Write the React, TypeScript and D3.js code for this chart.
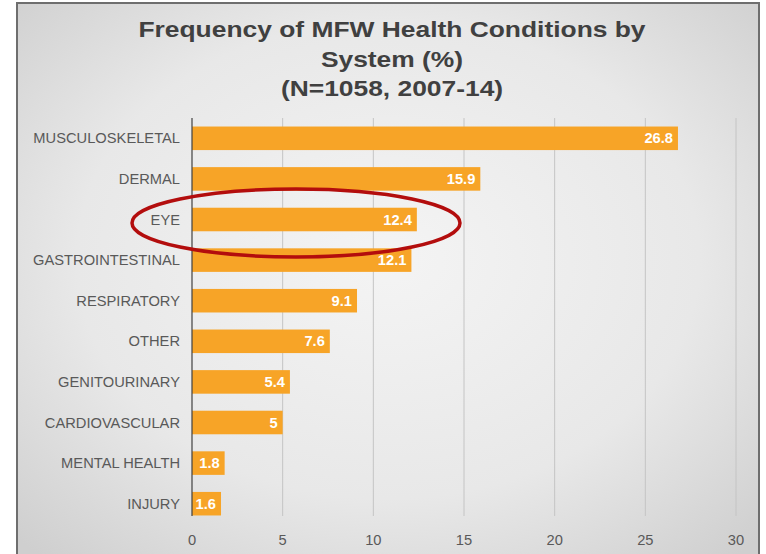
import React, { useEffect, useRef } from "react";
import * as d3 from "d3";

const categories = [
  "MUSCULOSKELETAL",
  "DERMAL",
  "EYE",
  "GASTROINTESTINAL",
  "RESPIRATORY",
  "OTHER",
  "GENITOURINARY",
  "CARDIOVASCULAR",
  "MENTAL HEALTH",
  "INJURY",
];
const values = [26.8, 15.9, 12.4, 12.1, 9.1, 7.6, 5.4, 5, 1.8, 1.6];
const xTicks = [0, 5, 10, 15, 20, 25, 30];
const titleLines = [
  "Frequency of MFW Health Conditions by",
  "System (%)",
  "(N=1058, 2007-14)",
];
const highlighted = "EYE";

export default function App() {
  const ref = useRef<SVGSVGElement>(null);

  useEffect(() => {
    const svg = d3.select(ref.current);
    svg.selectAll("*").remove();

    const W = 766, H = 554;
    const font = "'Liberation Sans', Arial, sans-serif";

    // background gradient + frame
    const defs = svg.append("defs");
    const grad = defs.append("radialGradient").attr("id", "bg")
      .attr("cx", "50%").attr("cy", "45%").attr("r", "70%");
    grad.append("stop").attr("offset", "0%").attr("stop-color", "#f4f4f4");
    grad.append("stop").attr("offset", "60%").attr("stop-color", "#e8e8e8");
    grad.append("stop").attr("offset", "100%").attr("stop-color", "#cfcfcf");

    svg.append("rect").attr("width", W).attr("height", H).attr("fill", "#fff");
    svg.append("rect")
      .attr("x", 17).attr("y", 3).attr("width", 742).attr("height", 570)
      .attr("fill", "url(#bg)").attr("stroke", "#6e6e6e").attr("stroke-width", 2);

    // title (the picture is a bit stretched horizontally)
    const titleBase = [37, 67, 96];
    svg.append("g").selectAll("text").data(titleLines).join("text")
      .attr("transform", (d, i) => `translate(392,${titleBase[i]}) scale(1.2,1)`)
      .attr("text-anchor", "middle")
      .attr("font-family", font)
      .attr("font-weight", "bold")
      .attr("font-size", 22)
      .attr("fill", "#404040")
      .text(d => d);

    const x = d3.scaleLinear().domain([0, 30]).range([192, 736]);
    const y = d3.scaleBand().domain(categories).range([118, 524]).paddingInner(0.42).paddingOuter(0.21);
    const gridTop = 118, gridBottom = 516;

    // gridlines
    svg.append("g").selectAll("line").data(xTicks.slice(1)).join("line")
      .attr("x1", d => x(d)).attr("x2", d => x(d))
      .attr("y1", gridTop).attr("y2", gridBottom)
      .attr("stroke", "#c4c4c4").attr("stroke-width", 1);

    // x tick labels
    svg.append("g").selectAll("text").data(xTicks).join("text")
      .attr("transform", d => `translate(${x(d)},545) scale(1.05,1)`)
      .attr("text-anchor", "middle")
      .attr("font-family", font).attr("font-size", 14)
      .attr("fill", "#595959")
      .text(d => d);

    // bars
    svg.append("g").selectAll("rect").data(values).join("rect")
      .attr("x", x(0))
      .attr("y", (d, i) => y(categories[i])!)
      .attr("width", d => x(d) - x(0))
      .attr("height", y.bandwidth())
      .attr("fill", "#f7a427");

    // value labels
    svg.append("g").selectAll("text").data(values).join("text")
      .attr("transform", (d, i) => `translate(${x(d) - 5},${y(categories[i])! + y.bandwidth() / 2 + 5}) scale(1.05,1)`)
      .attr("text-anchor", "end")
      .attr("font-family", font).attr("font-weight", "bold").attr("font-size", 14)
      .attr("fill", "#ffffff")
      .text(d => d);

    // category labels
    svg.append("g").selectAll("text").data(categories).join("text")
      .attr("transform", d => `translate(180,${y(d)! + y.bandwidth() / 2 + 5}) scale(1.05,1)`)
      .attr("text-anchor", "end")
      .attr("font-family", font).attr("font-size", 14)
      .attr("fill", "#595959")
      .text(d => d);

    // y axis line
    svg.append("line")
      .attr("x1", x(0)).attr("x2", x(0))
      .attr("y1", gridTop).attr("y2", gridBottom)
      .attr("stroke", "#404040").attr("stroke-width", 1.2);

    // highlight ellipse
    const cy = y(highlighted)! + y.bandwidth() / 2;
    svg.append("ellipse")
      .attr("cx", 296).attr("cy", cy + 3.5)
      .attr("rx", 164).attr("ry", 34)
      .attr("fill", "none").attr("stroke", "#b30d0d").attr("stroke-width", 3.5);
  }, []);

  return (
    <svg ref={ref} width={766} height={554}
      style={{ position: "absolute", left: 0, top: 0, display: "block" }} />
  );
}
